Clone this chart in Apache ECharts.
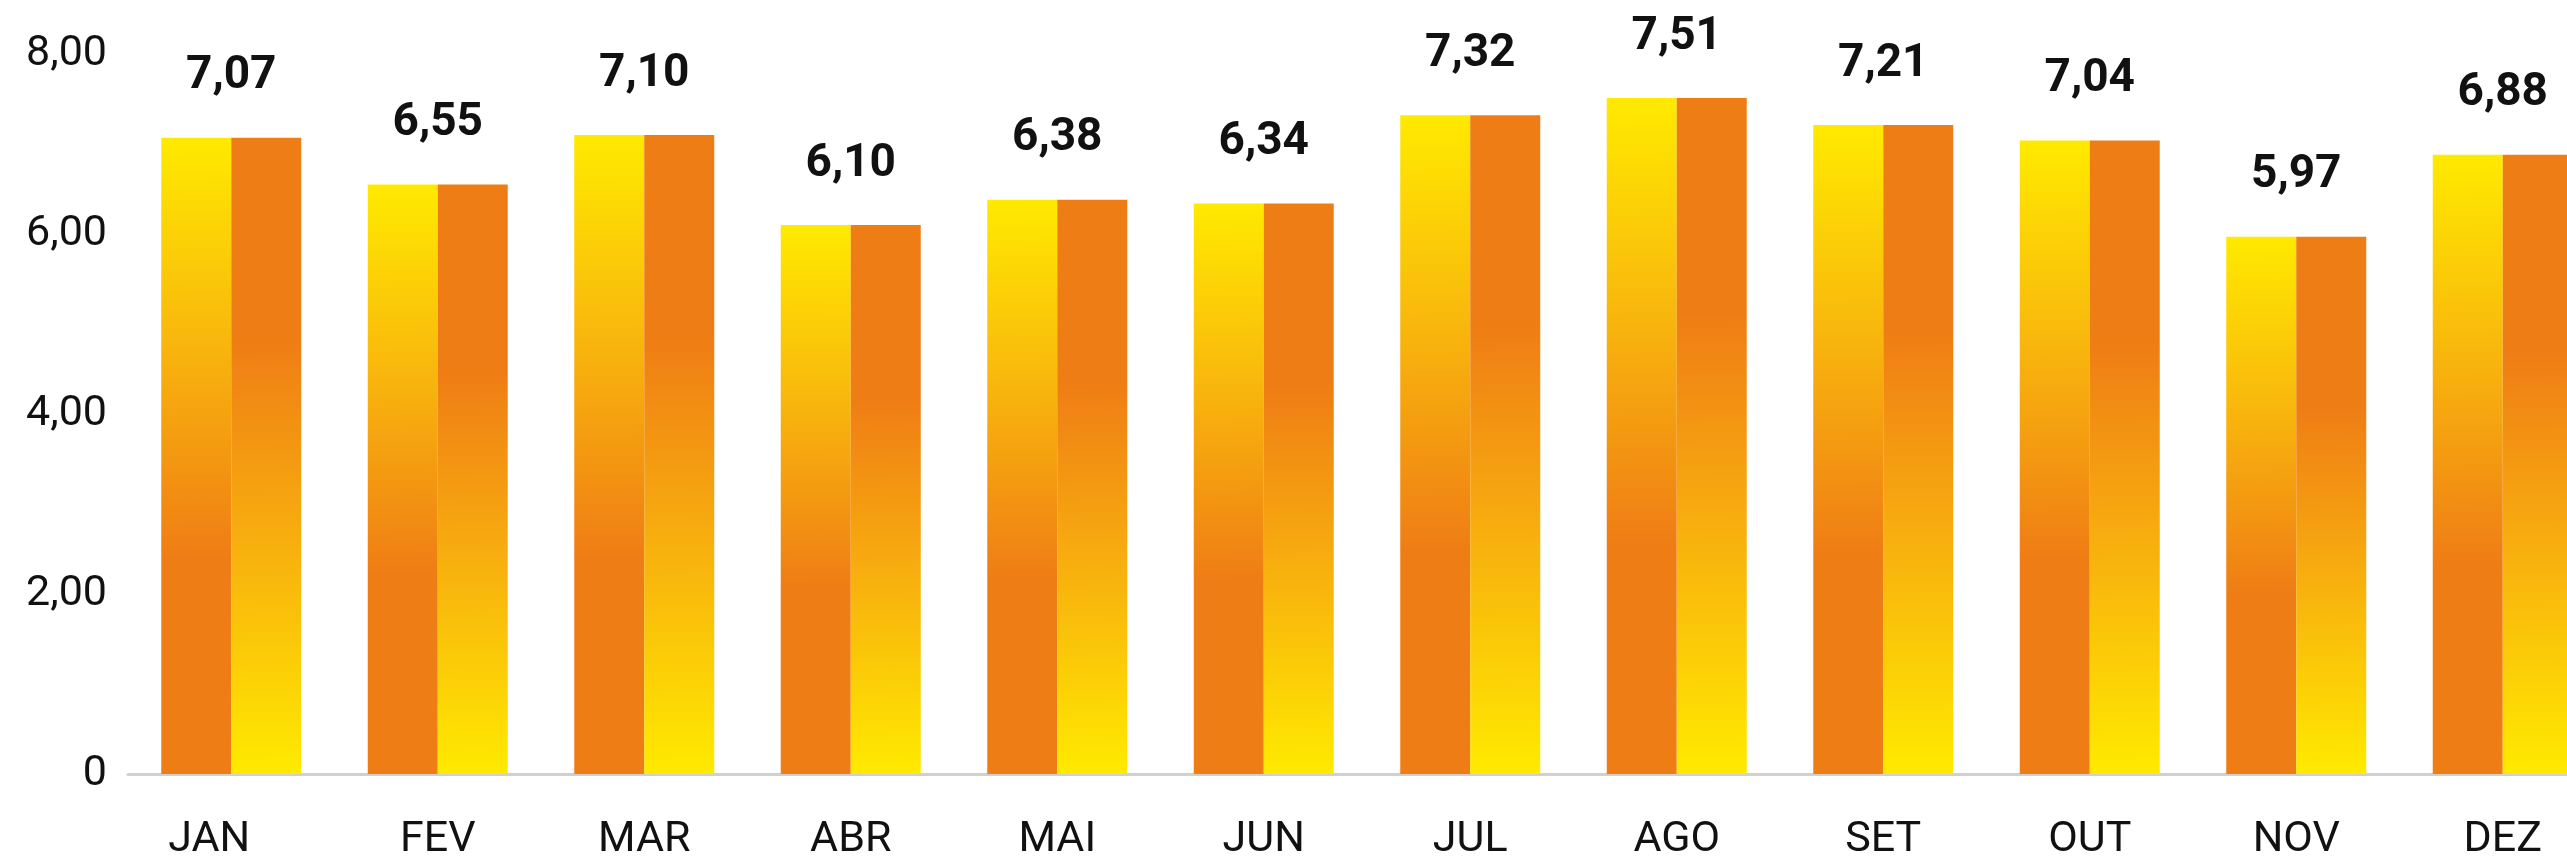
<!DOCTYPE html>
<html>
<head>
<meta charset="utf-8">
<title>Médias mensais</title>
<script src="https://cdn.jsdelivr.net/npm/echarts@6/dist/echarts.min.js"></script>
<style>
  html, body { margin: 0; padding: 0; background: #ffffff; overflow: hidden; }
  /* The plot runs past the right edge of the window, so the last bar is cut off */
  #chart { width: 2620px; height: 862px; }
</style>
</head>
<body>
<div id="chart"></div>
<script>
// Monthly values
const months = ['JAN', 'FEV', 'MAR', 'ABR', 'MAI', 'JUN', 'JUL', 'AGO', 'SET', 'OUT', 'NOV', 'DEZ'];
const values = [7.07, 6.55, 7.10, 6.10, 6.38, 6.34, 7.32, 7.51, 7.21, 7.04, 5.97, 6.88];

// Value axis ticks
const yMin = 0;
const yMax = 8;
const yStep = 2;

const ORANGE = '#EF7D15';
const YELLOW = '#FFEA00';

const fmt = v => v.toFixed(2).replace('.', ',');

// Left half: yellow at the top fading into orange
const leftFill = new echarts.graphic.LinearGradient(0, 0, 0.08, 1, [
  { offset: 0, color: YELLOW },
  { offset: 0.30, color: '#F9BA0C' },
  { offset: 0.66, color: ORANGE },
  { offset: 1, color: ORANGE }
]);
// Right half: orange at the top fading into yellow
const rightFill = new echarts.graphic.LinearGradient(0, 0, 0.08, 1, [
  { offset: 0, color: ORANGE },
  { offset: 0.32, color: ORANGE },
  { offset: 0.62, color: '#F7AC0F' },
  { offset: 1, color: YELLOW }
]);

// The first month label sits a little left of its bar
const categoryItems = months.map((m, i) =>
  i === 0 ? { value: m, textStyle: { padding: [0, 44, 0, 0] } } : m
);

const chart = echarts.init(document.getElementById('chart'), null, { renderer: 'canvas' });

chart.setOption({
  backgroundColor: '#ffffff',
  animation: false,
  grid: { left: 128, right: 14, top: 54, bottom: 84, containLabel: false },
  xAxis: {
    type: 'category',
    data: categoryItems,
    axisLine: { show: true, lineStyle: { color: '#D0D0D0', width: 3 } },
    axisTick: { show: false },
    axisLabel: {
      margin: 45,
      color: '#111111',
      fontFamily: 'Roboto',
      fontSize: 43,
      interval: 0
    }
  },
  yAxis: {
    type: 'value',
    min: yMin,
    max: yMax,
    interval: yStep,
    axisLine: { show: false },
    axisTick: { show: false },
    splitLine: { show: false },
    axisLabel: {
      margin: 21,
      color: '#111111',
      fontFamily: 'Roboto',
      fontSize: 43,
      formatter: v => (v === 0 ? '0' : fmt(v))
    }
  },
  series: [
    {
      type: 'bar',
      data: values,
      barWidth: 70,
      barGap: '0%',
      itemStyle: { color: leftFill },
      label: {
        show: true,
        position: 'top',
        distance: 38,
        offset: [35, 0],
        color: '#111111',
        fontFamily: 'Roboto',
        fontWeight: 'bold',
        fontSize: 46,
        formatter: p => fmt(p.value)
      }
    },
    {
      type: 'bar',
      data: values,
      barWidth: 70,
      barGap: '0%',
      itemStyle: { color: rightFill }
    }
  ]
});
</script>
</body>
</html>
